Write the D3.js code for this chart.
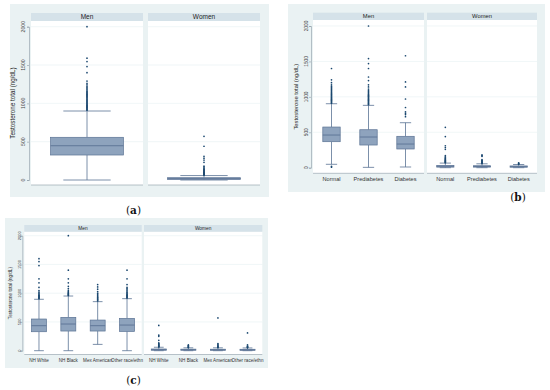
<!DOCTYPE html>
<html>
<head>
<meta charset="utf-8">
<script src="https://cdn.jsdelivr.net/npm/d3@7"></script>
<style>
  body { margin: 0; background: #fff; }
  svg { display: block; font-family: "Liberation Sans", Arial, sans-serif; }
</style>
</head>
<body>
<div id="viz-container"></div>
<script>
// ---------- data (boxes are [lower whisker, q1, median, q3, upper whisker]) ----------
const groups = ["Men", "Women"];
const yTicks = [0, 500, 1000, 1500, 2000];
const yTitle = "Testosterone total (ng/dL)";

// (a) all
const catsA = [""];
const menA_box = [[0, 326, 447, 557, 900]];
const menA_out = [[910, 918, 926, 934, 942, 950, 958, 966, 974, 982, 990, 1000, 1010, 1020, 1030, 1040, 1050,
  1060, 1070, 1080, 1090, 1100, 1110, 1120, 1130, 1140, 1150, 1160, 1175, 1190, 1205, 1220, 1240, 1260, 1290,
  1400, 1480, 1545, 1590, 2000]];
const womenA_box = [[0, 8, 18, 30, 58]];
const womenA_out = [[62, 68, 74, 80, 86, 92, 98, 105, 112, 120, 128, 136, 145, 155, 168, 180, 230, 260, 285, 310, 440, 570]];

// (b) by glycaemic status
const catsB = ["Normal", "Prediabetes", "Diabetes"];
const menB_box = [[48, 367, 461, 574, 903], [5, 320, 433, 536, 880], [10, 264, 334, 443, 635]];
const menB_out = [
  [8, 20, 910, 920, 930, 940, 950, 960, 970, 980, 990, 1000, 1012, 1024, 1036, 1048, 1060, 1075, 1090, 1105,
    1120, 1135, 1150, 1170, 1200, 1240, 1400],
  [890, 900, 910, 920, 930, 940, 950, 960, 970, 980, 990, 1000, 1010, 1020, 1030, 1045, 1060, 1075, 1090, 1110,
    1140, 1170, 1230, 1280, 1400, 1470, 1540, 2000],
  [720, 750, 770, 790, 850, 970, 1140, 1210, 1580]
];
const womenB_box = [[0, 8, 20, 32, 65], [0, 8, 17, 28, 55], [0, 7, 15, 25, 45]];
const womenB_out = [
  [70, 76, 82, 88, 95, 102, 110, 120, 130, 140, 152, 170, 260, 285, 310, 440, 570],
  [60, 66, 72, 80, 88, 96, 105, 115, 160, 170, 180],
  [50, 55, 62, 70]
];

// (c) by race/ethnicity
const catsC = ["NH White", "NH Black", "Mex American", "Other race/ethn"];
const menC_box = [[0, 330, 435, 551, 894], [0, 342, 464, 580, 951], [110, 342, 435, 533, 853], [0, 336, 446, 562, 905]];
const menC_out = [
  [905, 915, 925, 935, 945, 955, 965, 980, 1000, 1020, 1045, 1100, 1180, 1250, 1480, 1550, 1600],
  [960, 970, 980, 990, 1000, 1015, 1030, 1050, 1080, 1120, 1180, 1250, 1400, 2000],
  [865, 880, 895, 910, 925, 940, 960, 980, 1000, 1030, 1070, 1110, 1150],
  [915, 925, 935, 945, 955, 965, 975, 990, 1005, 1020, 1040, 1060, 1080, 1100, 1150, 1250, 1400]
];
const womenC_box = [[0, 8, 18, 30, 60], [0, 8, 17, 27, 50], [0, 7, 16, 26, 50], [0, 7, 15, 25, 48]];
const womenC_out = [
  [66, 74, 82, 90, 100, 110, 122, 135, 180, 250, 270, 440],
  [55, 62, 70, 80, 90, 100],
  [55, 62, 70, 80, 95, 110, 125, 570],
  [52, 58, 65, 72, 80, 100, 310]
];

// ---------- styles ----------
const bgColor = "#eaf2f3";
const stripColor = "#d5e2e9";
const gridColor = "#eaf2f3";
const boxFill = "#8ea3bd";
const boxLine = "#5b7394";
const dotColor = "#1a476f";
const axisColor = "#8c9aa6";

let svg = d3.select("#viz-container")
  .append("svg")
    .attr("width", 550)
    .attr("height", 390);

function drawPanel(p) {
  let g = svg.append("g");

  // outer background
  g.append("rect")
    .attr("x", p.bg[0]).attr("y", p.bg[1])
    .attr("width", p.bg[2]).attr("height", p.bg[3])
    .attr("fill", bgColor);

  let y = d3.scaleLinear().domain([0, 2000]).range(p.yRange);

  let parts = [
    { name: groups[0], x0: p.men[0], x1: p.men[1], boxes: p.menBox, outs: p.menOut },
    { name: groups[1], x0: p.women[0], x1: p.women[1], boxes: p.womenBox, outs: p.womenOut }
  ];

  parts.forEach(function (part, k) {
    // plot area
    g.append("rect")
      .attr("x", part.x0).attr("y", p.strip[1])
      .attr("width", part.x1 - part.x0).attr("height", p.axisY - p.strip[1])
      .attr("fill", "#fff");

    // strip header
    g.append("rect")
      .attr("x", part.x0).attr("y", p.strip[0])
      .attr("width", part.x1 - part.x0).attr("height", p.strip[1] - p.strip[0])
      .attr("fill", stripColor);
    g.append("text")
      .attr("x", (part.x0 + part.x1) / 2)
      .attr("y", (p.strip[0] + p.strip[1]) / 2)
      .attr("dy", "0.35em")
      .attr("text-anchor", "middle")
      .attr("font-size", p.stripFont)
      .attr("fill", "#222")
      .text(part.name);

    // gridlines
    g.selectAll(null).data(yTicks.slice(1)).enter()
      .append("line")
      .attr("x1", part.x0).attr("x2", part.x1)
      .attr("y1", d => y(d)).attr("y2", d => y(d))
      .attr("stroke", gridColor).attr("stroke-width", 0.7);

    let x = d3.scalePoint().domain(p.cats).range([part.x0, part.x1]).padding(0.5);
    let bw = x.step() * p.boxFrac;
    let cw = bw * 0.65;

    let items = g.selectAll(null).data(part.boxes).enter()
      .append("g")
      .attr("transform", (d, i) => "translate(" + x(p.cats[i]) + ",0)");

    // whiskers
    items.append("line")
      .attr("x1", 0).attr("x2", 0)
      .attr("y1", d => y(d[0])).attr("y2", d => y(d[1]))
      .attr("stroke", boxLine).attr("stroke-width", 0.8);
    items.append("line")
      .attr("x1", 0).attr("x2", 0)
      .attr("y1", d => y(d[3])).attr("y2", d => y(d[4]))
      .attr("stroke", boxLine).attr("stroke-width", 0.8);
    items.append("line")
      .attr("x1", -cw / 2).attr("x2", cw / 2)
      .attr("y1", d => y(d[0])).attr("y2", d => y(d[0]))
      .attr("stroke", boxLine).attr("stroke-width", 0.8);
    items.append("line")
      .attr("x1", -cw / 2).attr("x2", cw / 2)
      .attr("y1", d => y(d[4])).attr("y2", d => y(d[4]))
      .attr("stroke", boxLine).attr("stroke-width", 0.8);

    // box
    items.append("rect")
      .attr("x", -bw / 2).attr("width", bw)
      .attr("y", d => y(d[3]))
      .attr("height", d => Math.max(y(d[1]) - y(d[3]), 0.8))
      .attr("fill", boxFill)
      .attr("stroke", boxLine).attr("stroke-width", 0.7);
    items.append("line")
      .attr("x1", -bw / 2).attr("x2", bw / 2)
      .attr("y1", d => y(d[2])).attr("y2", d => y(d[2]))
      .attr("stroke", boxLine).attr("stroke-width", 0.9);

    // outliers
    part.outs.forEach(function (vals, i) {
      g.selectAll(null).data(vals).enter()
        .append("circle")
        .attr("cx", x(p.cats[i]))
        .attr("cy", d => y(d))
        .attr("r", 0.85)
        .attr("fill", dotColor);
    });

    // x axis line
    g.append("line")
      .attr("x1", part.x0).attr("x2", part.x1)
      .attr("y1", p.axisY).attr("y2", p.axisY)
      .attr("stroke", axisColor).attr("stroke-width", 0.6);

    // category labels
    if (p.catLabelY) {
      g.selectAll(null).data(p.cats).enter()
        .append("text")
        .attr("x", d => x(d))
        .attr("y", p.catLabelY)
        .attr("dy", "0.35em")
        .attr("text-anchor", "middle")
        .attr("font-size", p.catFont)
        .attr("fill", "#333")
        .text(d => d);
    }
  });

  // y axis
  let yAxis = g.append("g")
    .attr("transform", "translate(" + (p.men[0] - 2) + ",0)")
    .call(d3.axisLeft(y).tickValues(yTicks).tickSize(2).tickFormat(""));
  yAxis.select(".domain").attr("stroke", axisColor).attr("stroke-width", 0.6);
  yAxis.selectAll(".tick line").attr("stroke", axisColor).attr("stroke-width", 0.6);

  g.selectAll(null).data(yTicks).enter()
    .append("text")
    .attr("transform", d => "translate(" + p.yLabelX + "," + y(d) + ") rotate(-90)")
    .attr("text-anchor", "middle")
    .attr("font-size", p.tickFont)
    .attr("fill", "#444")
    .text(d => d);

  g.append("text")
    .attr("transform", "translate(" + p.titleX + "," + ((p.strip[1] + p.axisY) / 2) + ") rotate(-90)")
    .attr("text-anchor", "middle")
    .attr("font-size", p.titleFont)
    .attr("fill", "#222")
    .text(yTitle);

  // panel letter
  g.append("text")
    .attr("x", p.label[0]).attr("y", p.label[1])
    .attr("text-anchor", "middle")
    .attr("font-family", "'DejaVu Serif', 'Liberation Serif', serif")
    .attr("font-size", 10.5)
    .attr("fill", "#111")
    .html(p.labelText);
}

drawPanel({
  bg: [10, 4, 259, 193], men: [31, 143], women: [148, 260], strip: [13, 21],
  yRange: [180, 26.7], axisY: 185, catLabelY: null, yLabelX: 25, titleX: 15,
  boxFrac: 0.65, cats: catsA,
  menBox: menA_box, menOut: menA_out, womenBox: womenA_box, womenOut: womenA_out,
  stripFont: 6.5, catFont: 6, tickFont: 5.2, titleFont: 6.3,
  label: [133.5, 213.5], labelText: "(<tspan font-weight='bold'>a</tspan>)"
});

drawPanel({
  bg: [288, 4, 257, 188], men: [313, 424], women: [427, 537], strip: [12.7, 20],
  yRange: [167.7, 26], axisY: 173.3, catLabelY: 179.5, yLabelX: 308, titleX: 298,
  boxFrac: 0.47, cats: catsB,
  menBox: menB_box, menOut: menB_out, womenBox: womenB_box, womenOut: womenB_out,
  stripFont: 5.8, catFont: 5.6, tickFont: 4.8, titleFont: 5.8,
  label: [518, 200.5], labelText: "(<tspan font-weight='bold'>b</tspan>)"
});

drawPanel({
  bg: [5, 218, 263, 150], men: [24.3, 141.7], women: [144, 262.3], strip: [225, 231.7],
  yRange: [350.7, 235.7], axisY: 354.5, catLabelY: 360.5, yLabelX: 20.5, titleX: 11.5,
  boxFrac: 0.51, cats: catsC,
  menBox: menC_box, menOut: menC_out, womenBox: womenC_box, womenOut: womenC_out,
  stripFont: 4.8, catFont: 4.6, tickFont: 4, titleFont: 4.6,
  label: [133.5, 383.5], labelText: "(<tspan font-weight='bold'>c</tspan>)"
});
</script>
</body>
</html>
